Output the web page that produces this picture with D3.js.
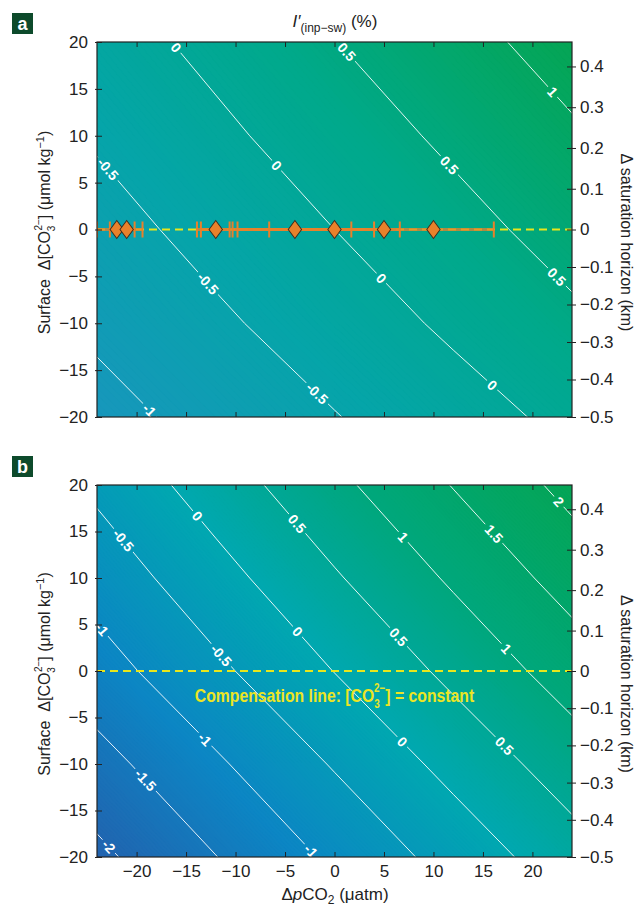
<!DOCTYPE html>
<html>
<head>
<meta charset="utf-8">
<script src="https://cdn.jsdelivr.net/npm/d3@7"></script>
<style>
  body { margin: 0; background: #fff; }
  text { font-family: "Liberation Sans Narrow", "Liberation Sans", sans-serif; }
</style>
</head>
<body>
<div id="chart"></div>
<script>
var svgWidth = 637;
var svgHeight = 906;

// ---- data ----
// coarse grid of the field (x = delta pCO2, y = surface delta CO3)
var gridX = [-36, -24, -12, 0, 12, 24, 36];
var gridY = [30, 20, 10, 0, -10, -20, -30];

// panel a: I'(inp-sw) in %
var fieldA = [
  -0.34, 0.01, 0.37, 0.73, 1.09, 1.44, 1.80,
  -0.57, -0.22, 0.13, 0.49, 0.84, 1.19, 1.54,
  -0.79, -0.45, -0.10, 0.25, 0.59, 0.94, 1.29,
  -1.02, -0.68, -0.34, 0.00, 0.34, 0.68, 1.02,
  -1.25, -0.91, -0.58, -0.25, 0.08, 0.41, 0.74,
  -1.48, -1.16, -0.84, -0.52, -0.20, 0.12, 0.44,
  -1.71, -1.40, -1.08, -0.77, -0.46, -0.15, 0.17
];
// panel b
var fieldB = [
  -0.60, 0.05, 0.71, 1.36, 2.01, 2.66, 3.32,
  -1.04, -0.40, 0.24, 0.88, 1.52, 2.15, 2.79,
  -1.43, -0.80, -0.18, 0.45, 1.07, 1.70, 2.32,
  -1.83, -1.21, -0.60, 0.01, 0.62, 1.23, 1.85,
  -2.28, -1.67, -1.07, -0.46, 0.15, 0.75, 1.36,
  -2.71, -2.11, -1.51, -0.91, -0.31, 0.29, 0.89,
  -3.14, -2.55, -1.96, -1.36, -0.77, -0.17, 0.42
];

var levelsA = [-1, -0.5, 0, 0.5, 1];
var levelsB = [-2, -1.5, -1, -0.5, 0, 0.5, 1, 1.5, 2];

// contour label spots [x, y, level]
var labelsA = [
  [-16.1, 19.3, 0], [1.0, 18.8, 0.5], [22.1, 14.7, 1],
  [-22.9, 6.4, -0.5], [-5.9, 6.8, 0], [11.4, 6.7, 0.5],
  [-12.7, -5.7, -0.5], [4.8, -5.2, 0], [22.6, -4.9, 0.5],
  [-18.4, -19.0, -1], [-1.8, -17.6, -0.5], [15.9, -16.6, 0]
];
var labelsB = [
  [-21.3, 14.1, -0.5], [-14.0, 16.5, 0], [-4.1, 15.5, 0.5], [6.8, 14.3, 1],
  [16.0, 14.6, 1.5], [22.6, 18.2, 2],
  [-23.1, 4.9, -1], [-11.4, 1.7, -0.5], [-3.8, 4.2, 0], [6.3, 3.5, 0.5], [17.4, 2.5, 1],
  [-13.2, -7.4, -1], [6.9, -7.6, 0], [17.2, -8.0, 0.5],
  [-20.7, -13.3, -1.5], [-22.8, -18.8, -2], [-2.2, -19.2, -1]
];

// panel a: estimates along the compensation line
var pointsX = [-22, -21, -12, -4, 0, 5, 10];
var errLo = [-24, -22.7, -13.9, -13.5, -10.3, -9.8, -6.6];
var errHi = [-19.4, -20.2, -10.6, 1.7, 4.0, 6.6, 16.1];

var xTicks = [-20, -15, -10, -5, 0, 5, 10, 15, 20];
var yTicks = [-20, -15, -10, -5, 0, 5, 10, 15, 20];
var horizonTicks = [-0.5, -0.4, -0.3, -0.2, -0.1, 0, 0.1, 0.2, 0.3, 0.4];
var horizonDomain = [-0.5, 0, 0.46];

// ---- layout ----
var x = d3.scaleLinear().domain([-24, 24]).range([97, 572]);

var svg = d3.select("#chart").append("svg")
  .attr("width", svgWidth)
  .attr("height", svgHeight);
var defs = svg.append("defs");

var colorA = d3.scaleLinear()
  .domain([-1.2, -0.4, 0.3, 1.2])
  .range(["#1896bd", "#05a5a8", "#00a98b", "#05a553"]);
var colorB = d3.scaleLinear()
  .domain([-2.2, -1.1, 0, 1, 2.2])
  .range(["#2460ad", "#0c86c4", "#00a8b0", "#00a77c", "#05a553"]);

function drawPanel(id, top, bottom, field, levels, labels, color) {
  var y = d3.scaleLinear().domain([-20, 20]).range([bottom, top]);
  var g = svg.append("g");

  defs.append("clipPath").attr("id", "clip" + id)
    .append("rect")
    .attr("x", x(-24)).attr("y", top)
    .attr("width", x(24) - x(-24)).attr("height", bottom - top);

  // grid coords -> data -> pixels
  var stepX = gridX[1] - gridX[0], stepY = gridY[1] - gridY[0];
  var proj = d3.geoTransform({
    point: function(gx, gy) {
      this.stream.point(x(gridX[0] + (gx - 0.5) * stepX), y(gridY[0] + (gy - 0.5) * stepY));
    }
  });
  var path = d3.geoPath(proj);
  var contours = d3.contours().size([gridX.length, gridY.length]);

  var plot = g.append("g").attr("clip-path", "url(#clip" + id + ")");

  // colour field as many thin filled bands
  var bands = contours.thresholds(d3.range(-3.4, 3.4, 0.02))(field);
  plot.append("rect")
    .attr("x", x(-24)).attr("y", top)
    .attr("width", x(24) - x(-24)).attr("height", bottom - top)
    .attr("fill", color(-3.4));
  plot.selectAll("path.band")
    .data(bands)
    .join("path")
    .attr("class", "band")
    .attr("d", path)
    .attr("fill", d => color(d.value))
    .attr("stroke", d => color(d.value))
    .attr("stroke-width", 0.6);

  // contour lines, with gaps for labels via mask
  var mask = defs.append("mask").attr("id", "mask" + id)
    .attr("maskUnits", "userSpaceOnUse")
    .attr("x", 0).attr("y", 0).attr("width", svgWidth).attr("height", svgHeight);
  mask.append("rect").attr("width", svgWidth).attr("height", svgHeight).attr("fill", "#fff");

  var lines = plot.append("g").attr("mask", "url(#mask" + id + ")");
  var linePaths = lines.selectAll("path")
    .data(contours.thresholds(levels)(field))
    .join("path")
    .attr("d", path)
    .attr("fill", "none")
    .attr("stroke", "#fff")
    .attr("stroke-width", 0.9);

  var labelG = plot.append("g");
  labels.forEach(function(l) {
    var node = linePaths.filter(d => d.value === l[2]).node();
    var tx = x(l[0]), ty = y(l[1]);
    var total = node.getTotalLength(), best = null, bestD = Infinity;
    for (var s = 0; s < total; s += 1) {
      var p = node.getPointAtLength(s);
      if (p.x < x(-24) || p.x > x(24) || p.y < top || p.y > bottom) continue;
      var dd = (p.x - tx) * (p.x - tx) + (p.y - ty) * (p.y - ty);
      if (dd < bestD) { bestD = dd; best = s; }
    }
    var p0 = node.getPointAtLength(best);
    var p1 = node.getPointAtLength(Math.max(0, best - 4));
    var p2 = node.getPointAtLength(Math.min(total, best + 4));
    var ang = Math.atan2(p2.y - p1.y, p2.x - p1.x) * 180 / Math.PI;
    if (ang > 90) ang -= 180;
    if (ang < -90) ang += 180;

    var txt = labelG.append("text")
      .attr("transform", `translate(${p0.x},${p0.y}) rotate(${ang})`)
      .attr("text-anchor", "middle")
      .attr("dy", "0.36em")
      .attr("font-size", 14)
      .attr("font-weight", "bold")
      .attr("fill", "#fff")
      .text(String(l[2]));
    var w = txt.node().getComputedTextLength() + 6;
    mask.append("rect")
      .attr("x", -w / 2).attr("y", -6).attr("width", w).attr("height", 12)
      .attr("transform", `translate(${p0.x},${p0.y}) rotate(${ang})`)
      .attr("fill", "#000");
  });

  // compensation line
  plot.append("line")
    .attr("x1", x(-24)).attr("x2", x(24))
    .attr("y1", y(0)).attr("y2", y(0))
    .attr("stroke", "#e8e61c")
    .attr("stroke-width", 2)
    .attr("stroke-dasharray", "8,5");

  // axes frame
  g.append("rect")
    .attr("x", x(-24)).attr("y", top)
    .attr("width", x(24) - x(-24)).attr("height", bottom - top)
    .attr("fill", "none").attr("stroke", "#222").attr("stroke-width", 1.2);

  var left = g.append("g")
    .attr("transform", `translate(${x(-24)},0)`)
    .call(d3.axisLeft(y).tickValues(yTicks).tickSize(0).tickPadding(9));
  left.select(".domain").remove();
  left.selectAll(".tick line").attr("x1", -2).attr("x2", 5).attr("stroke", "#222");
  left.selectAll("text").attr("font-size", 17).attr("fill", "#222");

  var r = d3.scaleLinear().domain(horizonDomain).range([y(-20), y(0), y(20)]);
  var right = g.append("g")
    .attr("transform", `translate(${x(24)},0)`)
    .call(d3.axisRight(r).tickValues(horizonTicks)
      .tickFormat(d => d === 0 ? "0" : d3.format(".1f")(d))
      .tickSize(0).tickPadding(8));
  right.select(".domain").remove();
  right.selectAll(".tick line").attr("x1", -5).attr("x2", 4).attr("stroke", "#222");
  right.selectAll("text").attr("font-size", 17).attr("fill", "#222");

  var topAx = g.append("g")
    .attr("transform", `translate(0,${top})`)
    .call(d3.axisTop(x).tickValues(xTicks).tickSize(0).tickFormat(""));
  topAx.select(".domain").remove();
  topAx.selectAll(".tick line").attr("y1", 0).attr("y2", 5).attr("stroke", "#222");

  var bot = g.append("g")
    .attr("transform", `translate(0,${bottom})`)
    .call(d3.axisBottom(x).tickValues(xTicks).tickSize(0).tickPadding(8));
  bot.select(".domain").remove();
  bot.selectAll(".tick line").attr("y1", 0).attr("y2", -5).attr("stroke", "#222");
  bot.selectAll("text").attr("font-size", 17).attr("fill", "#222");
  if (id === "a") bot.selectAll("text").remove();

  // left axis title
  var cy = (top + bottom) / 2 + 3;
  var yl = g.append("text")
    .attr("transform", `translate(50,${cy}) rotate(-90)`)
    .attr("text-anchor", "middle")
    .attr("font-size", 16)
    .attr("fill", "#222");
  yl.append("tspan").text("Surface \u00a0Δ[CO");
  yl.append("tspan").attr("font-size", 10).attr("dy", 5).text("3");
  yl.append("tspan").attr("font-size", 10).attr("dx", -5).attr("dy", -13).text("2−");
  yl.append("tspan").attr("dy", 8).text("] (μmol kg");
  yl.append("tspan").attr("font-size", 11).attr("dy", -6).text("−1");
  yl.append("tspan").attr("dy", 6).text(")");

  // right axis title
  g.append("text")
    .attr("transform", `translate(621,${cy + 10}) rotate(90)`)
    .attr("text-anchor", "middle")
    .attr("font-size", 16)
    .attr("fill", "#222")
    .text("Δ saturation horizon (km)");

  // panel letter
  g.append("rect")
    .attr("x", 12).attr("y", top - 29)
    .attr("width", 21).attr("height", 21)
    .attr("fill", "#0d4a2b");
  g.append("text")
    .attr("x", 22.5).attr("y", top - 12)
    .attr("text-anchor", "middle")
    .attr("font-size", 18).attr("font-weight", "bold")
    .attr("fill", "#fff")
    .text(id);

  return { y: y, plot: plot };
}

var pa = drawPanel("a", 42, 417, fieldA, levelsA, labelsA, colorA);
var pb = drawPanel("b", 485, 857, fieldB, levelsB, labelsB, colorB);

// ---- panel a: estimates with horizontal error bars ----
var orange = "#e8812b";
var ya = pa.y;
var est = pa.plot.append("g");
est.selectAll("line.bar")
  .data(pointsX)
  .join("line")
  .attr("class", "bar")
  .attr("x1", (d, i) => x(errLo[i]))
  .attr("x2", (d, i) => x(errHi[i]))
  .attr("y1", ya(0)).attr("y2", ya(0))
  .attr("stroke", orange)
  .attr("stroke-width", 3)
  .attr("stroke-opacity", 0.75);
est.selectAll("line.capL")
  .data(errLo)
  .join("line")
  .attr("x1", d => x(d)).attr("x2", d => x(d))
  .attr("y1", ya(0) - 8).attr("y2", ya(0) + 8)
  .attr("stroke", orange).attr("stroke-width", 2);
est.selectAll("line.capR")
  .data(errHi)
  .join("line")
  .attr("x1", d => x(d)).attr("x2", d => x(d))
  .attr("y1", ya(0) - 8).attr("y2", ya(0) + 8)
  .attr("stroke", orange).attr("stroke-width", 2);
est.selectAll("path.dia")
  .data(pointsX)
  .join("path")
  .attr("class", "dia")
  .attr("d", d3.symbol(d3.symbolSquare, 90))
  .attr("transform", d => `translate(${x(d)},${ya(0)}) scale(1,1.35) rotate(45)`)
  .attr("fill", orange)
  .attr("stroke", "#3d2a1c")
  .attr("stroke-width", 0.8);

// ---- panel b: compensation note (condensed by a horizontal squeeze) ----
var yb = pb.y;
var note = svg.append("text")
  .attr("transform", `translate(${x(0)},${yb(-3.3)}) scale(0.83,1)`)
  .attr("text-anchor", "middle")
  .attr("font-size", 19)
  .attr("font-weight", "bold")
  .attr("fill", "#ece524");
note.append("tspan").text("Compensation line: [CO");
note.append("tspan").attr("font-size", 12).attr("dy", 6).text("3");
note.append("tspan").attr("font-size", 12).attr("dx", -7).attr("dy", -16).text("2−");
note.append("tspan").attr("dy", 10).text("] = constant");

// ---- titles ----
var title = svg.append("text")
  .attr("x", 335).attr("y", 27)
  .attr("text-anchor", "middle")
  .attr("font-size", 17)
  .attr("fill", "#222");
title.append("tspan").attr("font-style", "italic").text("I′");
title.append("tspan").attr("font-size", 12).attr("dy", 5).text("(inp−sw)");
title.append("tspan").attr("dy", -5).text(" (%)");

var xl = svg.append("text")
  .attr("x", 335).attr("y", 900)
  .attr("text-anchor", "middle")
  .attr("font-size", 17)
  .attr("fill", "#222");
xl.append("tspan").text("Δ");
xl.append("tspan").attr("font-style", "italic").text("p");
xl.append("tspan").text("CO");
xl.append("tspan").attr("font-size", 12).attr("dy", 4).text("2");
xl.append("tspan").attr("dy", -4).text(" (μatm)");
</script>
</body>
</html>
